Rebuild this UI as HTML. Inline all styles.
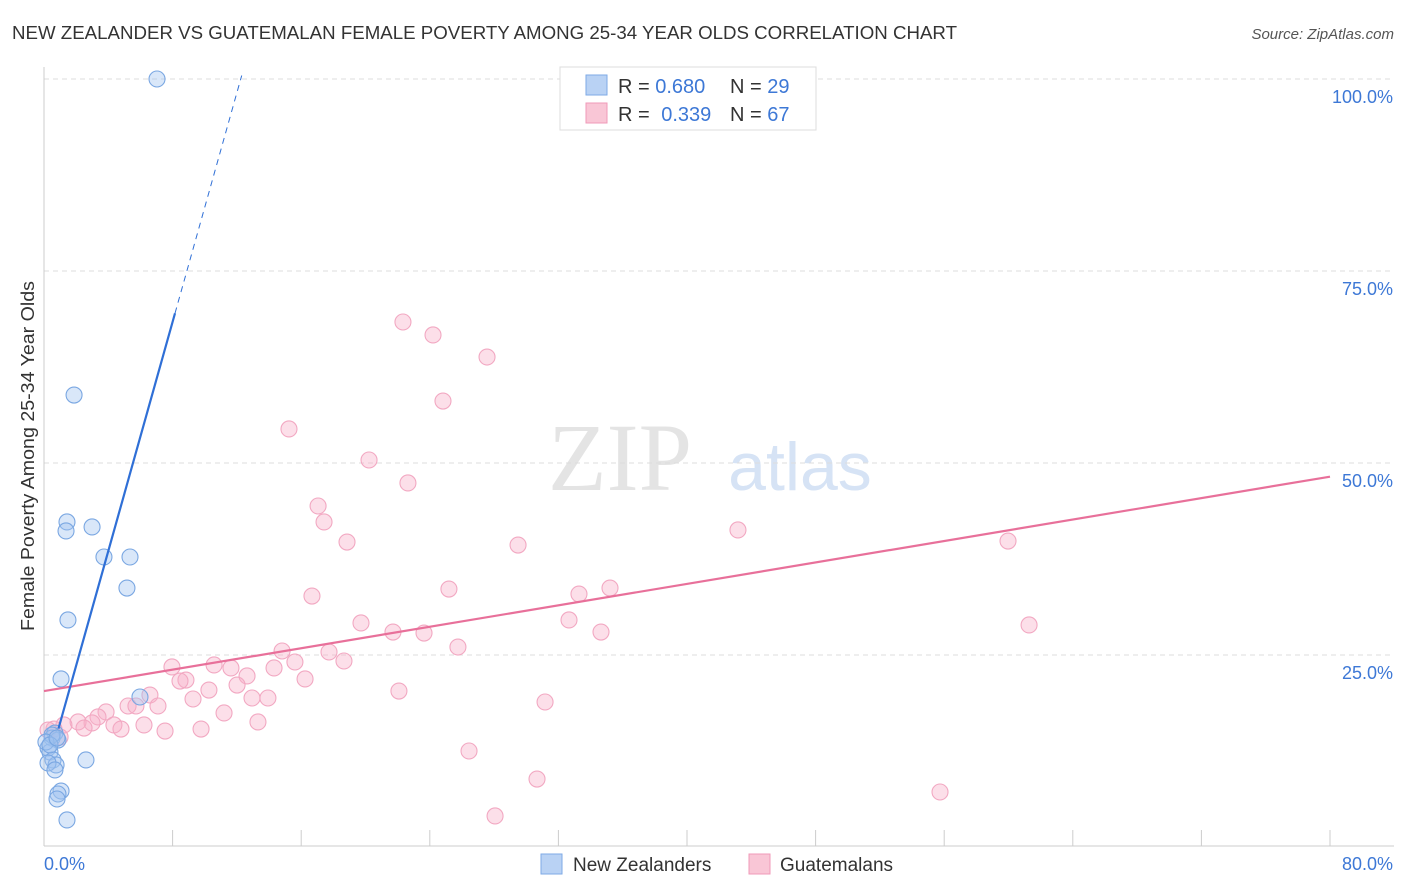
<!DOCTYPE html>
<html><head><meta charset="utf-8"><style>
body{margin:0;background:#fff;font-family:"Liberation Sans",sans-serif}
svg{display:block}
</style></head><body>
<svg id="chart" width="1406" height="892">
<text x="12" y="39" font-size="18" fill="#333" textLength="945" lengthAdjust="spacingAndGlyphs">NEW ZEALANDER VS GUATEMALAN FEMALE POVERTY AMONG 25-34 YEAR OLDS CORRELATION CHART</text>
<text x="1394" y="39" font-size="15" fill="#555" text-anchor="end" font-style="italic">Source: ZipAtlas.com</text>
<text x="620" y="490" font-size="96" fill="#e4e4e4" font-family="Liberation Serif" text-anchor="middle">ZIP</text>
<text x="800" y="490" font-size="68" fill="#d6e3f5" text-anchor="middle">atlas</text>
<text transform="translate(34,456) rotate(-90)" font-size="18" fill="#333" text-anchor="middle" textLength="350" lengthAdjust="spacingAndGlyphs">Female Poverty Among 25-34 Year Olds</text>
<g id="grid"></g><g id="pts"></g><g id="lines"></g>
<g>
<rect x="560" y="67" width="256" height="63" fill="#fff" stroke="#ddd"/>
<rect x="586" y="75" width="21" height="20" fill="#b9d2f4" stroke="#7eaae6"/>
<rect x="586" y="103" width="21" height="20" fill="#f9c6d6" stroke="#f09ab8"/>
<text x="618" y="93" font-size="20" fill="#333">R = <tspan fill="#3d78d6">0.680</tspan><tspan x="730">N = </tspan><tspan fill="#3d78d6">29</tspan></text>
<text x="618" y="121" font-size="20" fill="#333">R = <tspan fill="#3d78d6" dx="6">0.339</tspan><tspan x="730">N = </tspan><tspan fill="#3d78d6">67</tspan></text>
</g>
<g>
<rect x="541" y="854" width="21" height="20" fill="#b9d2f4" stroke="#7eaae6"/>
<text x="573" y="871" font-size="19" fill="#333">New Zealanders</text>
<rect x="749" y="854" width="21" height="20" fill="#f9c6d6" stroke="#f09ab8"/>
<text x="780" y="871" font-size="19" fill="#333">Guatemalans</text>
</g>
</svg>
<script>
const blueX=[7.03,1.87,1.43,2.99,1.37,3.73,5.35,5.16,1.49,1.06,5.97,0.68,0.50,0.87,0.25,0.37,0.56,0.75,0.25,2.61,0.68,1.06,0.87,0.81,1.43,0.50,0.12,0.37,0.81];
const blueY=[100.0,58.85,42.32,41.67,41.15,37.76,37.76,33.72,29.56,21.88,19.53,14.84,14.19,13.93,12.89,12.37,11.33,10.68,10.94,11.33,10.03,7.29,6.90,6.25,3.52,14.58,13.67,13.28,14.19];
const pinkX=[22.33,24.20,27.56,24.82,15.24,20.22,22.64,17.05,17.42,18.85,29.49,43.17,59.97,25.19,33.28,35.21,16.67,19.72,32.66,61.28,21.71,23.64,34.65,25.75,14.81,17.73,18.66,15.61,7.96,10.58,11.63,14.31,8.83,8.46,12.63,16.24,12.01,10.26,22.08,9.27,12.94,13.93,6.59,31.17,5.23,7.09,5.72,11.20,3.86,3.36,13.31,6.22,2.99,2.12,1.24,2.49,4.35,4.79,7.53,9.77,0.62,0.25,1.00,26.44,30.67,55.74,28.06];
const pinkY=[68.36,66.67,63.80,58.07,54.43,50.39,47.40,44.40,42.32,39.71,39.32,41.28,39.84,33.59,32.94,33.72,32.68,29.17,29.56,28.91,27.99,27.86,27.99,26.04,25.52,25.39,24.22,24.09,23.44,23.70,23.31,23.31,21.74,21.61,22.27,21.88,21.09,20.44,20.31,19.27,19.40,19.40,19.79,18.88,18.36,18.36,18.36,17.45,17.58,16.93,16.28,15.89,16.15,16.28,15.89,15.49,15.89,15.36,15.10,15.36,15.36,15.23,14.32,12.50,8.85,7.16,4.04];
const yTicks=[25,50,75,100];
const yTickLabels=["25.0%","50.0%","75.0%","100.0%"];
const xTickLabels=["0.0%","80.0%"];
const blueFit=[8.7,7.46]; const pinkFit=[20.3,0.349];
const NS="http://www.w3.org/2000/svg";
const X=v=>44+v*16.075, Y=v=>847-v*7.68;
function mk(tag,at,par){const e=document.createElementNS(NS,tag);for(const k in at)e.setAttribute(k,at[k]);par.appendChild(e);return e;}
const g=document.getElementById('grid');
yTicks.forEach((t,i)=>{
 const l=mk('line',{x1:44,x2:1394,y1:Y(t),y2:Y(t),stroke:'#ddd','stroke-dasharray':'5,4'},g);
 
 
 const tx=mk('text',{x:1393,y:Y(t)+24,'font-size':18,fill:'#3d78d6','text-anchor':'end'},g);
 tx.textContent=yTickLabels[i];
 
 
});
mk('line',{x1:44,x2:44,y1:67,y2:846,stroke:'#ccc'},g);
mk('line',{x1:44,x2:1394,y1:846,y2:846,stroke:'#ccc'},g);
for(let i=0;i<=10;i++){const t=mk('line',{x1:X(i*8),x2:X(i*8),y1:830,y2:846,stroke:'#ccc'},g);
 
 }
const xl0=mk('text',{x:44,y:870,'font-size':18,fill:'#3d78d6'},g);xl0.textContent=xTickLabels[0];


const xl1=mk('text',{x:1393,y:870,'font-size':18,fill:'#3d78d6','text-anchor':'end'},g);xl1.textContent=xTickLabels[1];


const p=document.getElementById('pts');
pinkX.forEach((x,i)=>{const c=mk('circle',{cx:X(x),cy:Y(pinkY[i]),r:8,fill:'rgba(247,176,200,0.4)',stroke:'#f2a8c2','stroke-width':1.1},p);
 
 });
blueX.forEach((x,i)=>{const c=mk('circle',{cx:X(x),cy:Y(blueY[i]),r:8,fill:'rgba(160,195,240,0.4)',stroke:'#7aa7e2','stroke-width':1.1},p);
 
 });
const L=document.getElementById('lines');
const f=(fit,x)=>fit[0]+fit[1]*x;
let a=mk('line',{x1:X(0),y1:Y(f(pinkFit,0)),x2:X(80),y2:Y(f(pinkFit,80)),stroke:'#e8709a','stroke-width':2.2},L);


a=mk('line',{x1:X(0.9),y1:Y(f(blueFit,0.9)),x2:X(8.15),y2:Y(f(blueFit,8.15)),stroke:'#2f6fd6','stroke-width':2.2},L);


a=mk('line',{x1:X(8.15),y1:Y(f(blueFit,8.15)),x2:X(12.3),y2:Y(f(blueFit,12.3)),stroke:'#2f6fd6','stroke-width':1,'stroke-dasharray':'6,5'},L);


</script>
</body></html>
